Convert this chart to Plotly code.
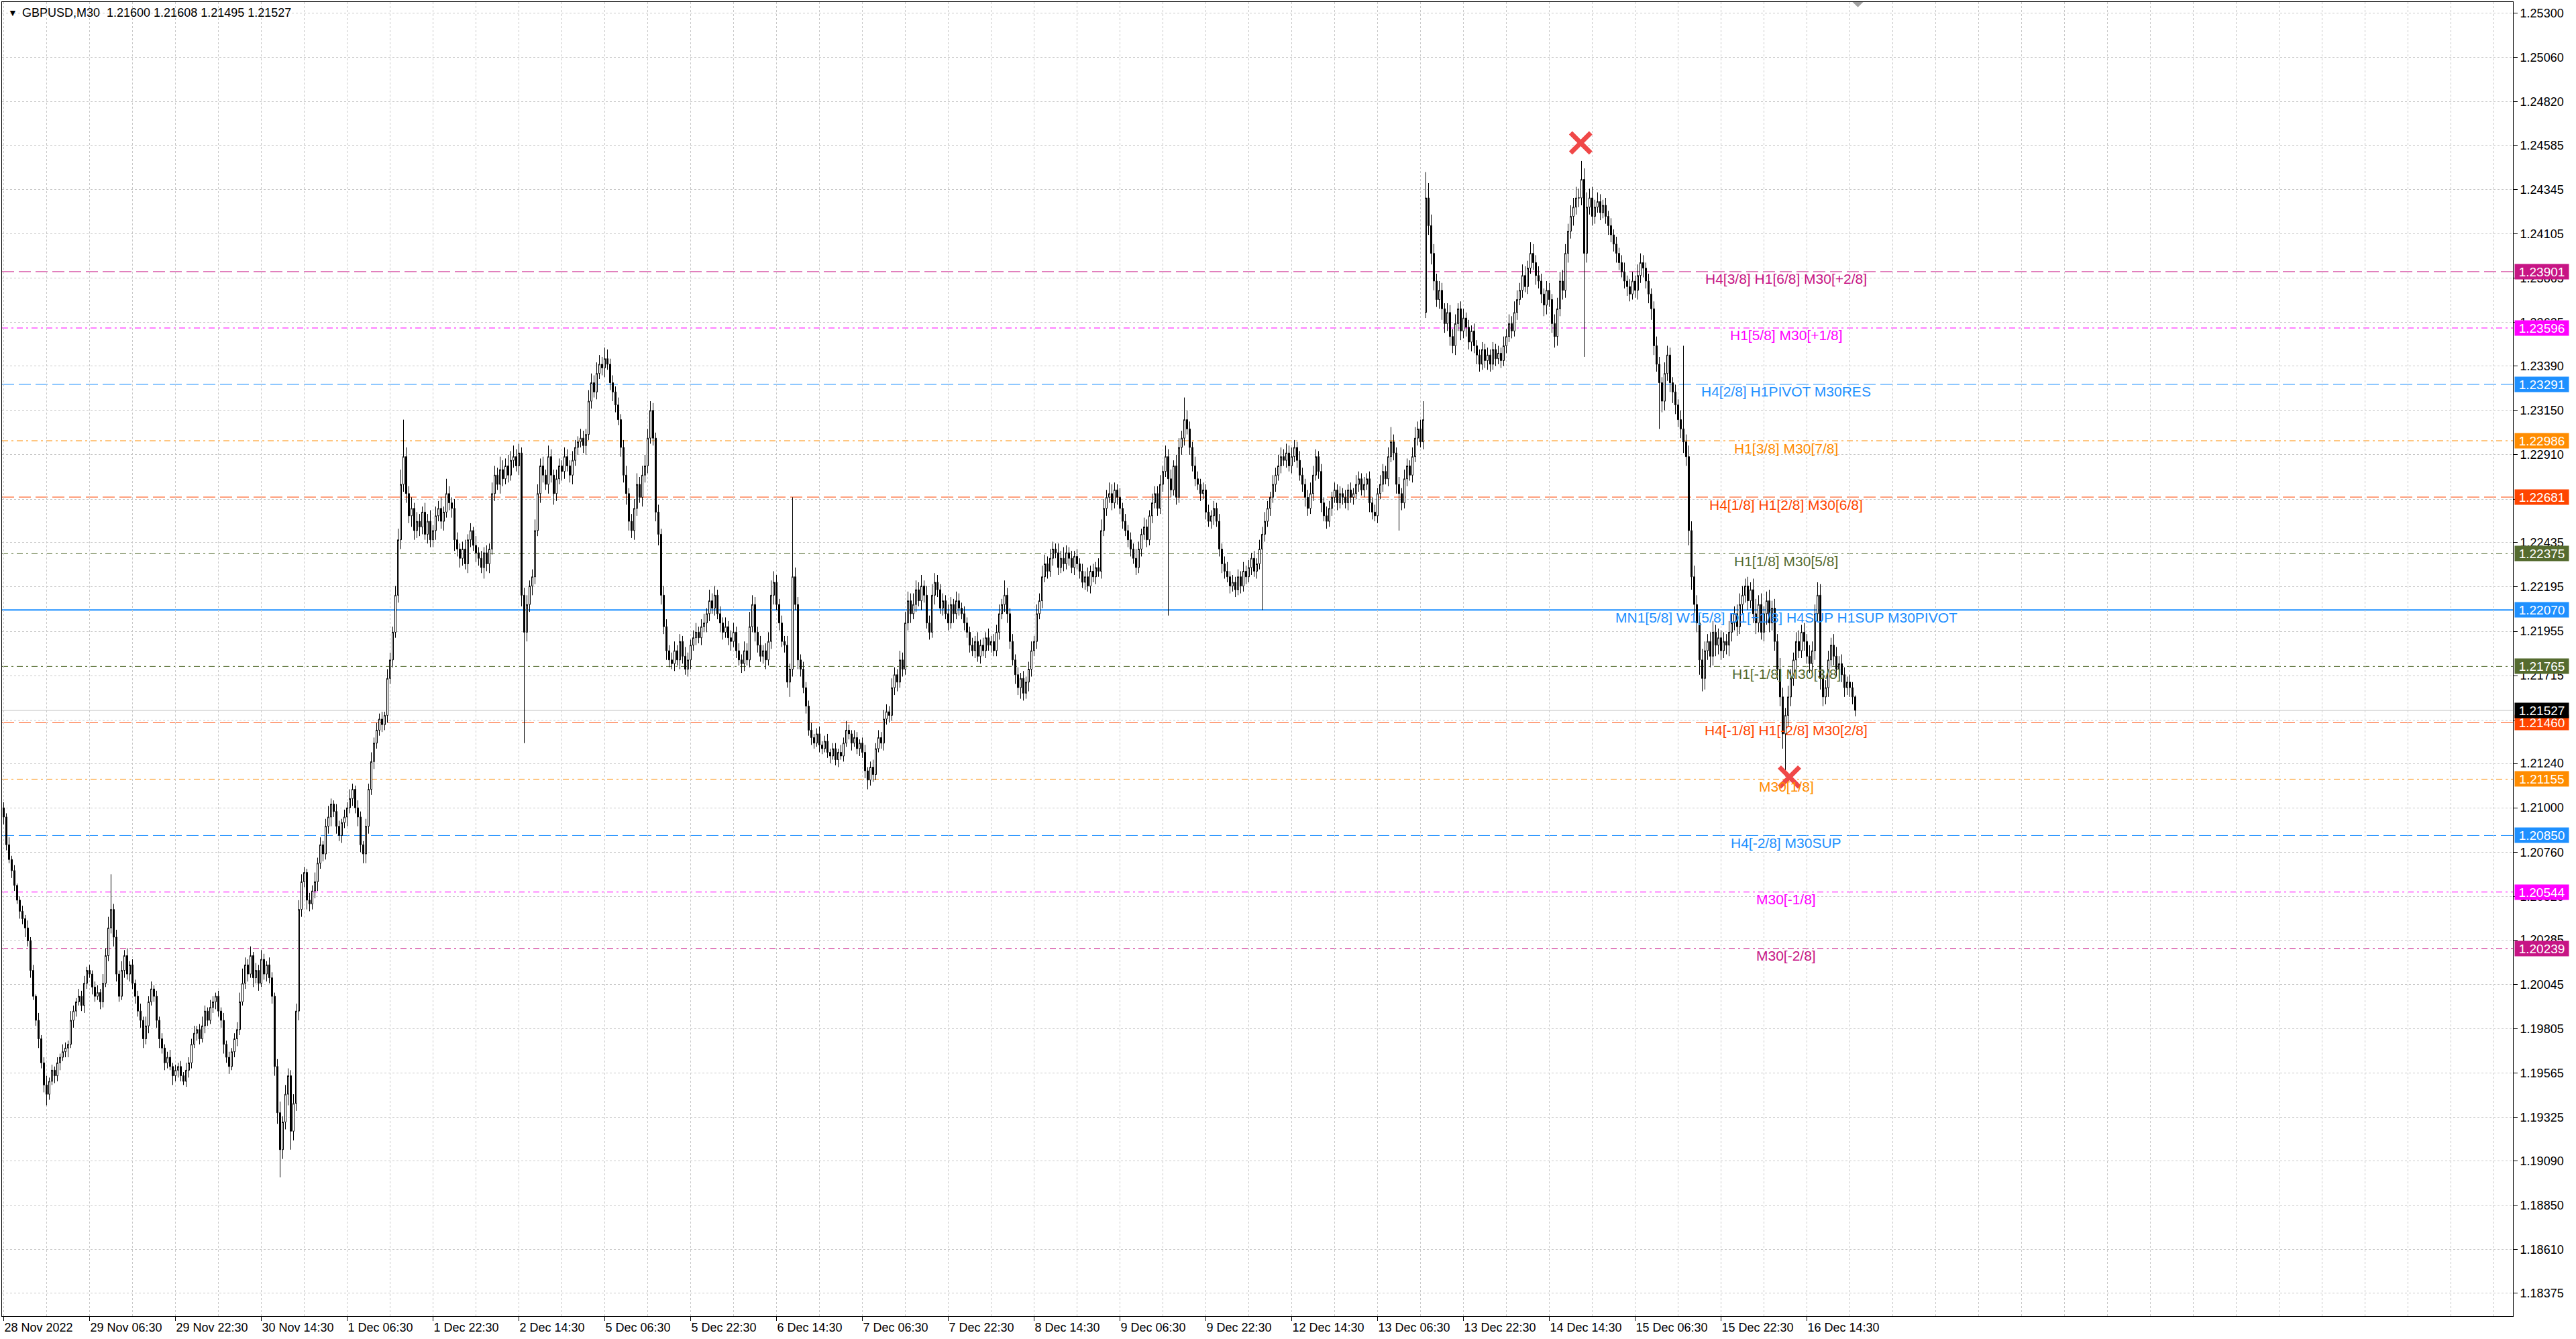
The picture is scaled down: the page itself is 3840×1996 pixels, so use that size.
import plotly.graph_objects as go

# ---------------- data (prices in pips, 1 pip = 0.0001) ----------------
symbol = "GBPUSD,M30"
first_open = 12100
gap_opens = {530: 12368}
# O, H, L, C of the last (current) bar, from the chart header
last_bar = [1.21600, 1.21608, 1.21495, 1.21527]

closes = [
    12095,12080,12072,12066,12058,12050,12044,12040,12035,12028,
    12012,11998,11985,11975,11962,11950,11945,11952,11958,11955,
    11962,11965,11968,11970,11972,11985,11990,11995,11998,11993,
    12005,12012,12010,12003,11998,12000,11995,12005,12020,12035,
    12045,12030,12010,11998,12012,12020,12010,12015,12005,11998,
    11990,11985,11975,11982,11995,12002,11998,11985,11975,11970,
    11962,11965,11960,11955,11958,11960,11955,11952,11958,11962,
    11972,11978,11980,11975,11982,11990,11985,11992,11995,11998,
    11990,11985,11972,11965,11960,11968,11975,11980,11995,12005,
    12015,12010,12020,12008,12012,12005,12018,12010,12015,12008,
    11998,11960,11935,11915,11930,11945,11955,11925,11940,11990,
    12045,12060,12065,12050,12048,12055,12060,12070,12080,12075,
    12090,12095,12102,12098,12090,12085,12092,12095,12100,12105,
    12110,12100,12095,12080,12075,12090,12110,12125,12135,12142,
    12148,12145,12150,12170,12180,12195,12215,12245,12275,12290,
    12270,12258,12262,12250,12255,12252,12260,12248,12255,12245,
    12250,12258,12262,12255,12260,12270,12265,12262,12245,12240,
    12235,12240,12232,12245,12250,12242,12238,12235,12230,12238,
    12232,12240,12270,12280,12275,12283,12278,12285,12280,12288,
    12290,12285,12292,12215,12195,12210,12220,12225,12250,12270,
    12285,12280,12275,12290,12280,12270,12278,12285,12282,12290,
    12285,12280,12288,12295,12298,12300,12296,12302,12320,12330,
    12325,12335,12340,12338,12343,12340,12330,12325,12318,12310,
    12295,12280,12270,12255,12250,12262,12275,12268,12280,12285,
    12300,12315,12300,12260,12248,12215,12198,12185,12180,12178,
    12185,12180,12190,12182,12175,12180,12188,12192,12195,12192,
    12198,12200,12205,12212,12208,12215,12205,12200,12195,12198,
    12192,12190,12195,12185,12180,12178,12185,12180,12198,12210,
    12195,12188,12182,12185,12180,12190,12215,12222,12210,12200,
    12190,12188,12168,12175,12225,12210,12180,12175,12165,12155,
    12142,12138,12135,12140,12134,12132,12136,12130,12128,12132,
    12126,12130,12128,12135,12142,12140,12135,12138,12132,12135,
    12130,12120,12115,12122,12118,12132,12138,12135,12148,12152,
    12150,12165,12172,12168,12180,12175,12200,12212,12205,12210,
    12218,12212,12220,12215,12200,12195,12215,12222,12218,12208,
    12212,12205,12200,12210,12205,12212,12208,12205,12200,12195,
    12188,12185,12190,12182,12188,12185,12192,12188,12190,12185,
    12195,12205,12210,12215,12205,12190,12180,12172,12165,12170,
    12162,12168,12175,12185,12190,12205,12212,12225,12232,12228,
    12235,12240,12238,12230,12235,12232,12238,12235,12230,12236,
    12232,12228,12222,12225,12220,12228,12225,12230,12228,12250,
    12262,12268,12270,12265,12272,12268,12262,12255,12250,12245,
    12240,12235,12230,12240,12248,12252,12245,12258,12265,12270,
    12262,12275,12282,12290,12278,12272,12285,12268,12295,12300,
    12310,12305,12295,12285,12278,12275,12270,12272,12260,12255,
    12258,12262,12255,12240,12232,12228,12225,12220,12222,12218,
    12225,12220,12228,12225,12230,12235,12228,12232,12240,12248,
    12255,12262,12268,12275,12280,12285,12290,12288,12292,12285,
    12290,12295,12288,12280,12275,12268,12262,12270,12280,12290,
    12282,12265,12258,12255,12262,12268,12272,12265,12270,12268,
    12265,12272,12268,12270,12275,12278,12272,12275,12278,12265,
    12260,12258,12270,12275,12282,12278,12290,12298,12292,12275,
    12270,12265,12278,12285,12280,12290,12300,12305,12298,12310,
    12430,12415,12400,12385,12375,12380,12370,12362,12368,12355,
    12350,12362,12370,12358,12365,12360,12352,12358,12350,12345,
    12340,12348,12342,12345,12340,12348,12343,12346,12342,12350,
    12355,12362,12358,12368,12375,12380,12388,12382,12392,12400,
    12395,12388,12385,12378,12372,12380,12375,12362,12355,12370,
    12385,12380,12400,12412,12420,12425,12430,12430,12440,12400,
    12425,12430,12420,12425,12428,12422,12426,12420,12415,12410,
    12405,12400,12395,12390,12385,12382,12378,12385,12380,12388,
    12395,12392,12385,12378,12370,12350,12340,12330,12320,12335,
    12345,12330,12325,12318,12310,12305,12298,12290,12250,12225,
    12210,12200,12180,12170,12185,12190,12182,12195,12188,12192,
    12185,12190,12188,12195,12200,12205,12198,12210,12215,12220,
    12212,12218,12205,12200,12210,12195,12205,12212,12200,12208,
    12190,12175,12160,12140,12150,12160,12170,12180,12190,12185,
    12195,12190,12182,12178,12185,12205,12215,12170,12160,12165,
    12180,12188,12182,12175,12178,12172,12165,12168,12165,12160,
]

upper_wicks = [
    3,2,4,2,3,1,2,3,2,4, 2,3,1,4,2,3,5,2,3,2, 3,2,4,3,2,5,3,2,4,3, 4,2,3,2,3,4,2,5,4,6,
    19,3,4,2,5,3,4,2,3,2, 3,4,2,5,3,4,2,3,2,3, 2,3,4,2,3,2,3,2,4,3, 3,4,2,3,5,3,2,4,3,2,
    3,2,4,2,3,2,3,4,5,8, 4,3,5,2,4,3,5,3,2,4, 3,2,4,6,3,5,4,3,5,4, 5,4,3,2,4,3,5,3,4,2,
    4,6,3,2,4,3,2,4,3,5, 3,2,4,3,2,4,3,5,3,4, 3,4,2,5,4,3,5,6,8,20, 5,4,6,3,5,4,3,5,4,6,
    3,5,4,6,3,8,4,3,5,4, 3,4,5,3,4,2,5,3,4,3, 4,3,6,5,4,7,5,4,6,5, 6,4,5,3,4,5,3,4,6,5,
    4,5,3,6,4,3,5,4,3,5, 4,3,5,4,3,5,4,3,6,5, 4,6,5,4,6,5,3,4,3,4, 3,4,5,3,4,5,6,4,5,6,
    5,5,4,3,4,3,5,4,3,4, 5,3,4,3,5,4,3,4,5,3, 4,5,3,6,4,5,3,4,3,5, 3,4,5,3,4,3,5,4,8,5,
    4,3,5,3,4,5,8,6,4,3, 4,3,5,3,43,5,4,3,4,3, 3,4,2,3,4,2,3,4,2,3, 3,2,4,3,5,3,2,4,3,2,
    3,4,2,3,4,3,4,3,5,4, 3,5,4,3,5,4,6,5,4,6, 5,4,6,3,5,4,6,5,4,3, 4,3,5,4,3,5,4,3,4,3,
    3,4,3,5,3,4,3,5,3,4, 4,5,3,8,4,3,4,3,4,3, 4,3,4,5,3,5,4,6,5,4, 5,4,3,5,4,6,4,3,4,3,
    4,3,4,3,5,3,4,3,5,6, 5,4,6,5,4,3,5,3,4,3, 4,3,5,4,3,5,4,3,5,4, 4,5,3,6,4,5,3,6,5,4,
    12,5,4,3,5,4,3,4,3,4, 3,4,3,4,3,4,5,3,4,3, 4,3,5,3,4,3,4,3,5,4, 5,4,3,5,4,6,5,4,5,4,
    5,4,3,5,4,3,4,6,5,4, 3,4,3,5,4,3,4,3,4,3, 4,3,4,3,5,4,3,4,3,4, 3,4,3,5,4,3,5,8,4,3,
    4,3,5,4,3,5,6,4,5,10, 14,8,6,5,4,5,4,3,5,4, 4,5,3,4,5,3,4,3,4,3, 3,4,3,4,3,4,3,4,3,5,
    4,5,4,6,5,4,6,5,4,6, 5,4,5,4,3,5,4,3,5,6, 5,6,5,4,6,5,6,5,10,6, 8,5,6,4,5,4,3,4,3,4,
    3,4,3,4,5,3,4,5,3,6, 5,4,3,4,3,4,5,4,3,6, 5,4,3,4,3,5,45,4,6,5, 6,5,4,6,5,4,5,6,4,5,
    4,5,4,6,5,4,5,6,5,4, 5,4,6,8,5,6,4,5,6,4, 5,4,6,5,4,6,5,4,5,6, 4,5,4,6,5,5,7,6,5,4,
    5,4,6,5,4,5,4,3,4,3,
]

lower_wicks = [
    4,3,2,4,3,2,4,3,5,3, 4,2,3,5,3,4,6,3,2,4, 3,4,2,3,5,2,4,3,2,3, 4,3,2,4,3,2,4,3,2,3,
    3,5,4,3,2,4,3,4,3,4, 3,4,5,3,4,2,3,4,5,3, 4,3,2,5,3,4,3,2,3,4, 3,2,4,3,2,4,3,2,3,4,
    3,4,5,3,4,2,3,4,3,2, 3,4,2,5,3,4,2,3,4,3, 4,5,6,15,5,4,6,10,5,4, 5,4,3,5,4,3,4,5,3,4,
    3,4,5,3,4,3,4,3,5,3, 4,3,5,4,5,5,4,3,4,3, 3,4,3,4,3,4,3,4,5,4, 5,4,6,5,4,5,4,3,5,4,
    4,5,3,4,5,3,4,5,6,4, 5,4,3,5,4,3,5,4,3,6, 4,5,3,4,3,5,4,3,4,3, 4,3,5,6,60,5,4,5,4,3,
    5,4,3,5,4,6,4,3,5,4, 3,4,5,3,4,3,4,5,3,4, 3,4,3,4,5,3,4,5,4,3, 5,4,6,5,4,5,4,3,5,4,
    4,3,4,5,6,5,4,5,4,3, 4,3,5,4,3,4,5,3,4,3, 4,3,5,4,3,4,3,5,4,3, 4,5,3,4,3,5,4,3,4,3,
    5,4,3,4,5,3,4,5,3,4, 3,4,3,8,4,3,5,4,3,4, 3,4,3,2,4,3,2,3,4,2, 3,4,2,3,2,3,4,2,3,4,
    3,4,5,3,4,3,2,3,4,3, 4,3,4,5,3,4,3,4,5,3, 4,3,5,4,3,4,3,5,4,3, 4,3,4,3,5,3,4,3,4,3,
    4,3,4,3,4,3,4,3,4,3, 3,4,3,4,5,4,3,5,4,6, 4,3,5,4,3,4,3,4,3,4, 3,4,3,4,3,4,3,4,3,4,
    3,4,3,4,3,4,3,4,3,4, 3,4,3,4,3,4,3,4,3,4, 4,3,4,3,4,3,4,3,4,3, 4,3,4,3,74,4,3,4,3,4,
    4,3,4,3,4,3,4,3,4,3, 4,5,3,4,5,4,3,4,3,4, 3,4,3,4,3,4,3,4,3,33, 4,3,4,3,4,3,4,3,4,3,
    4,3,4,3,4,5,4,3,4,3, 4,5,3,4,3,4,3,4,3,4, 3,4,3,4,3,4,3,4,3,5, 4,3,4,3,4,3,4,3,4,5,
    20,4,3,4,3,4,3,4,3,4, 3,5,6,5,4,5,6,5,4,5, 4,5,4,5,4,5,4,5,4,5, 4,3,4,5,4,3,4,3,4,3,
    4,3,4,3,4,3,4,3,4,3, 4,5,4,5,6,5,4,5,6,5, 4,5,4,5,4,5,4,5,4,56, 5,4,5,4,3,4,3,4,5,4,
    4,5,4,3,4,5,4,3,4,5, 4,5,4,5,6,5,4,25,6,5, 4,5,6,5,4,5,6,5,8,7, 6,5,8,7,6,5,6,5,6,5,
    5,4,5,6,5,4,5,4,5,4, 5,4,5,6,5,4,5,6,5,4, 5,6,5,8,23,6,5,4,5,4, 4,5,4,5,6,5,4,6,5,4,
    5,4,5,4,5,4,5,4,5,4,
]

time_labels = ["28 Nov 2022", "29 Nov 06:30", "29 Nov 22:30", "30 Nov 14:30", "1 Dec 06:30",
               "1 Dec 22:30", "2 Dec 14:30", "5 Dec 06:30", "5 Dec 22:30", "6 Dec 14:30",
               "7 Dec 06:30", "7 Dec 22:30", "8 Dec 14:30", "9 Dec 06:30", "9 Dec 22:30",
               "12 Dec 14:30", "13 Dec 06:30", "13 Dec 22:30", "14 Dec 14:30", "15 Dec 06:30",
               "15 Dec 22:30", "16 Dec 14:30"]
bars_per_label = 32
bars_per_grid = 16

ytick_vals = [1.25300, 1.25060, 1.24820, 1.24585, 1.24345, 1.24105, 1.23865, 1.23625, 1.23390,
              1.23150, 1.22910, 1.22670, 1.22435, 1.22195, 1.21955, 1.21715, 1.21475, 1.21240,
              1.21000, 1.20760, 1.20520, 1.20285, 1.20045, 1.19805, 1.19565, 1.19325, 1.19090,
              1.18850, 1.18610, 1.18375]

level_vals = [1.23901, 1.23596, 1.23291, 1.22986, 1.22681, 1.22375, 1.22070,
              1.21765, 1.21460, 1.21155, 1.20850, 1.20544, 1.20239]
level_texts = ["H4[3/8] H1[6/8] M30[+2/8]", "H1[5/8] M30[+1/8]", "H4[2/8] H1PIVOT M30RES",
               "H1[3/8] M30[7/8]", "H4[1/8] H1[2/8] M30[6/8]", "H1[1/8] M30[5/8]",
               "MN1[5/8] W1[5/8] D1[+1/8] H4SUP H1SUP M30PIVOT", "H1[-1/8] M30[3/8]",
               "H4[-1/8] H1[-2/8] M30[2/8]", "M30[1/8]", "H4[-2/8] M30SUP", "M30[-1/8]", "M30[-2/8]"]
level_colors = ["#C71585", "#FF00FF", "#1E90FF", "#FF8C00", "#FF4500", "#556B2F", "#1E90FF",
                "#556B2F", "#FF4500", "#FF8C00", "#1E90FF", "#FF00FF", "#C71585"]
level_dashes = ["18px,7px", "9px,5px,3px,5px", "18px,7px", "9px,5px,3px,5px", "18px,7px",
                "9px,5px,3px,5px", "solid", "9px,5px,3px,5px", "18px,7px", "9px,5px,3px,5px",
                "18px,7px", "9px,5px,3px,5px", "9px,5px,3px,5px"]
level_widths = [1, 1, 1, 1, 1, 1, 2, 1, 1, 1, 1, 1, 1]
label_bar = 664.25

marker_bars = [587.7, 665.5]
marker_prices = [1.24598, 1.21166]

# ---------------- build OHLC ----------------
opens, highs, lows, cls = [], [], [], []
prev = first_open
for i, c in enumerate(closes):
    o = gap_opens.get(i, prev)
    opens.append(o / 1e4)
    cls.append(c / 1e4)
    highs.append((max(o, c) + upper_wicks[i]) / 1e4)
    lows.append((min(o, c) - lower_wicks[i]) / 1e4)
    prev = c
opens.append(last_bar[0]); highs.append(last_bar[1]); lows.append(last_bar[2]); cls.append(last_bar[3])
xs = list(range(len(cls)))

FONT = "Liberation Sans, Arial, sans-serif"
GRID = "#c8c8c8"

fig = go.Figure()
fig.add_trace(go.Candlestick(
    x=xs, open=opens, high=highs, low=lows, close=cls,
    increasing=dict(line=dict(color="black", width=1), fillcolor="white"),
    decreasing=dict(line=dict(color="black", width=1), fillcolor="black"),
    whiskerwidth=0, hoverinfo="skip", showlegend=False,
))
fig.add_trace(go.Scatter(
    x=marker_bars, y=marker_prices, mode="markers",
    marker=dict(symbol="x-thin", size=30, color="#F04848", line=dict(width=7, color="#F04848")),
    hoverinfo="skip", showlegend=False,
))

# level lines
for v, col, dash, w in zip(level_vals, level_colors, level_dashes, level_widths):
    fig.add_shape(type="line", xref="paper", x0=0, x1=1, yref="y", y0=v, y1=v,
                  line=dict(color=col, width=w, dash=dash), layer="below")
# current price line
fig.add_shape(type="line", xref="paper", x0=0, x1=1, yref="y", y0=last_bar[3], y1=last_bar[3],
              line=dict(color="#c0c0c0", width=1), layer="below")

annotations = []
for v, txt, col in zip(level_vals, level_texts, level_colors):
    annotations.append(dict(x=label_bar, y=v, xref="x", yref="y", text=txt, showarrow=False,
                            xanchor="center", yanchor="middle", yshift=-11,
                            font=dict(family=FONT, size=21, color=col)))
for v, col in zip(level_vals, level_colors):
    annotations.append(dict(x=1, y=v, xref="paper", yref="y", text=f"{v:.5f}", showarrow=False,
                            xanchor="left", yanchor="middle", xshift=2, bgcolor=col,
                            width=78, height=20, borderpad=1, align="center",
                            font=dict(family=FONT, size=19, color="white")))
annotations.append(dict(x=1, y=last_bar[3], xref="paper", yref="y", text=f"{last_bar[3]:.5f}",
                        showarrow=False, xanchor="left", yanchor="middle", xshift=2, bgcolor="black",
                        width=78, height=20, borderpad=1, align="center",
                        font=dict(family=FONT, size=19, color="white")))
title_txt = f"{symbol}  " + " ".join(f"{v:.5f}" for v in last_bar)
annotations.append(dict(x=0, y=1, xref="paper", yref="paper", text=title_txt, showarrow=False,
                        xanchor="left", yanchor="top", xshift=28, yshift=-4,
                        font=dict(family=FONT, size=18, color="black")))
annotations.append(dict(x=0, y=1, xref="paper", yref="paper", text="▼", showarrow=False,
                        xanchor="left", yanchor="top", xshift=7, yshift=-6,
                        font=dict(family=FONT, size=14, color="black")))

n = len(cls)
fig.add_shape(type="path", xref="x", yref="paper",
              path=f"M {n - 2},1 L {n + 2},1 L {n},0.996 Z",
              fillcolor="#a0a0a0", line=dict(width=0))

fig.update_layout(
    width=3840, height=1996,
    margin=dict(l=3, r=94, t=3, b=34),
    plot_bgcolor="white", paper_bgcolor="white",
    font=dict(family=FONT, size=18, color="black"),
    showlegend=False,
    annotations=annotations,
    boxgap=0.5, boxgroupgap=0,
    xaxis=dict(
        range=[-0.625, 935.125], rangeslider=dict(visible=False),
        tickmode="array",
        tickvals=[i * bars_per_label for i in range(len(time_labels))],
        ticktext=time_labels,
        ticks="outside", ticklen=6, tickcolor="black",
        ticklabelposition="outside right",
        tickfont=dict(family=FONT, size=18, color="black"),
        showline=True, linecolor="black", linewidth=1, mirror=True,
        showgrid=True, gridcolor=GRID, griddash="3px,3px", gridwidth=1,
        minor=dict(tickmode="linear", tick0=0, dtick=bars_per_grid, showgrid=True,
                   gridcolor=GRID, griddash="3px,3px", gridwidth=1, ticks=""),
        zeroline=False, fixedrange=True,
    ),
    yaxis=dict(
        range=[1.18249, 1.25360], side="right",
        tickmode="array", tickvals=ytick_vals, ticktext=[f"{v:.5f}" for v in ytick_vals],
        ticks="outside", ticklen=6, tickcolor="black",
        tickfont=dict(family=FONT, size=18, color="black"),
        showline=True, linecolor="black", linewidth=1, mirror=True,
        showgrid=True, gridcolor=GRID, griddash="3px,3px", gridwidth=1,
        zeroline=False, fixedrange=True,
    ),
)

fig.write_html("out.html", config={"displayModeBar": False},
               post_script="document.body.style.margin='0';document.body.style.overflow='hidden';")
